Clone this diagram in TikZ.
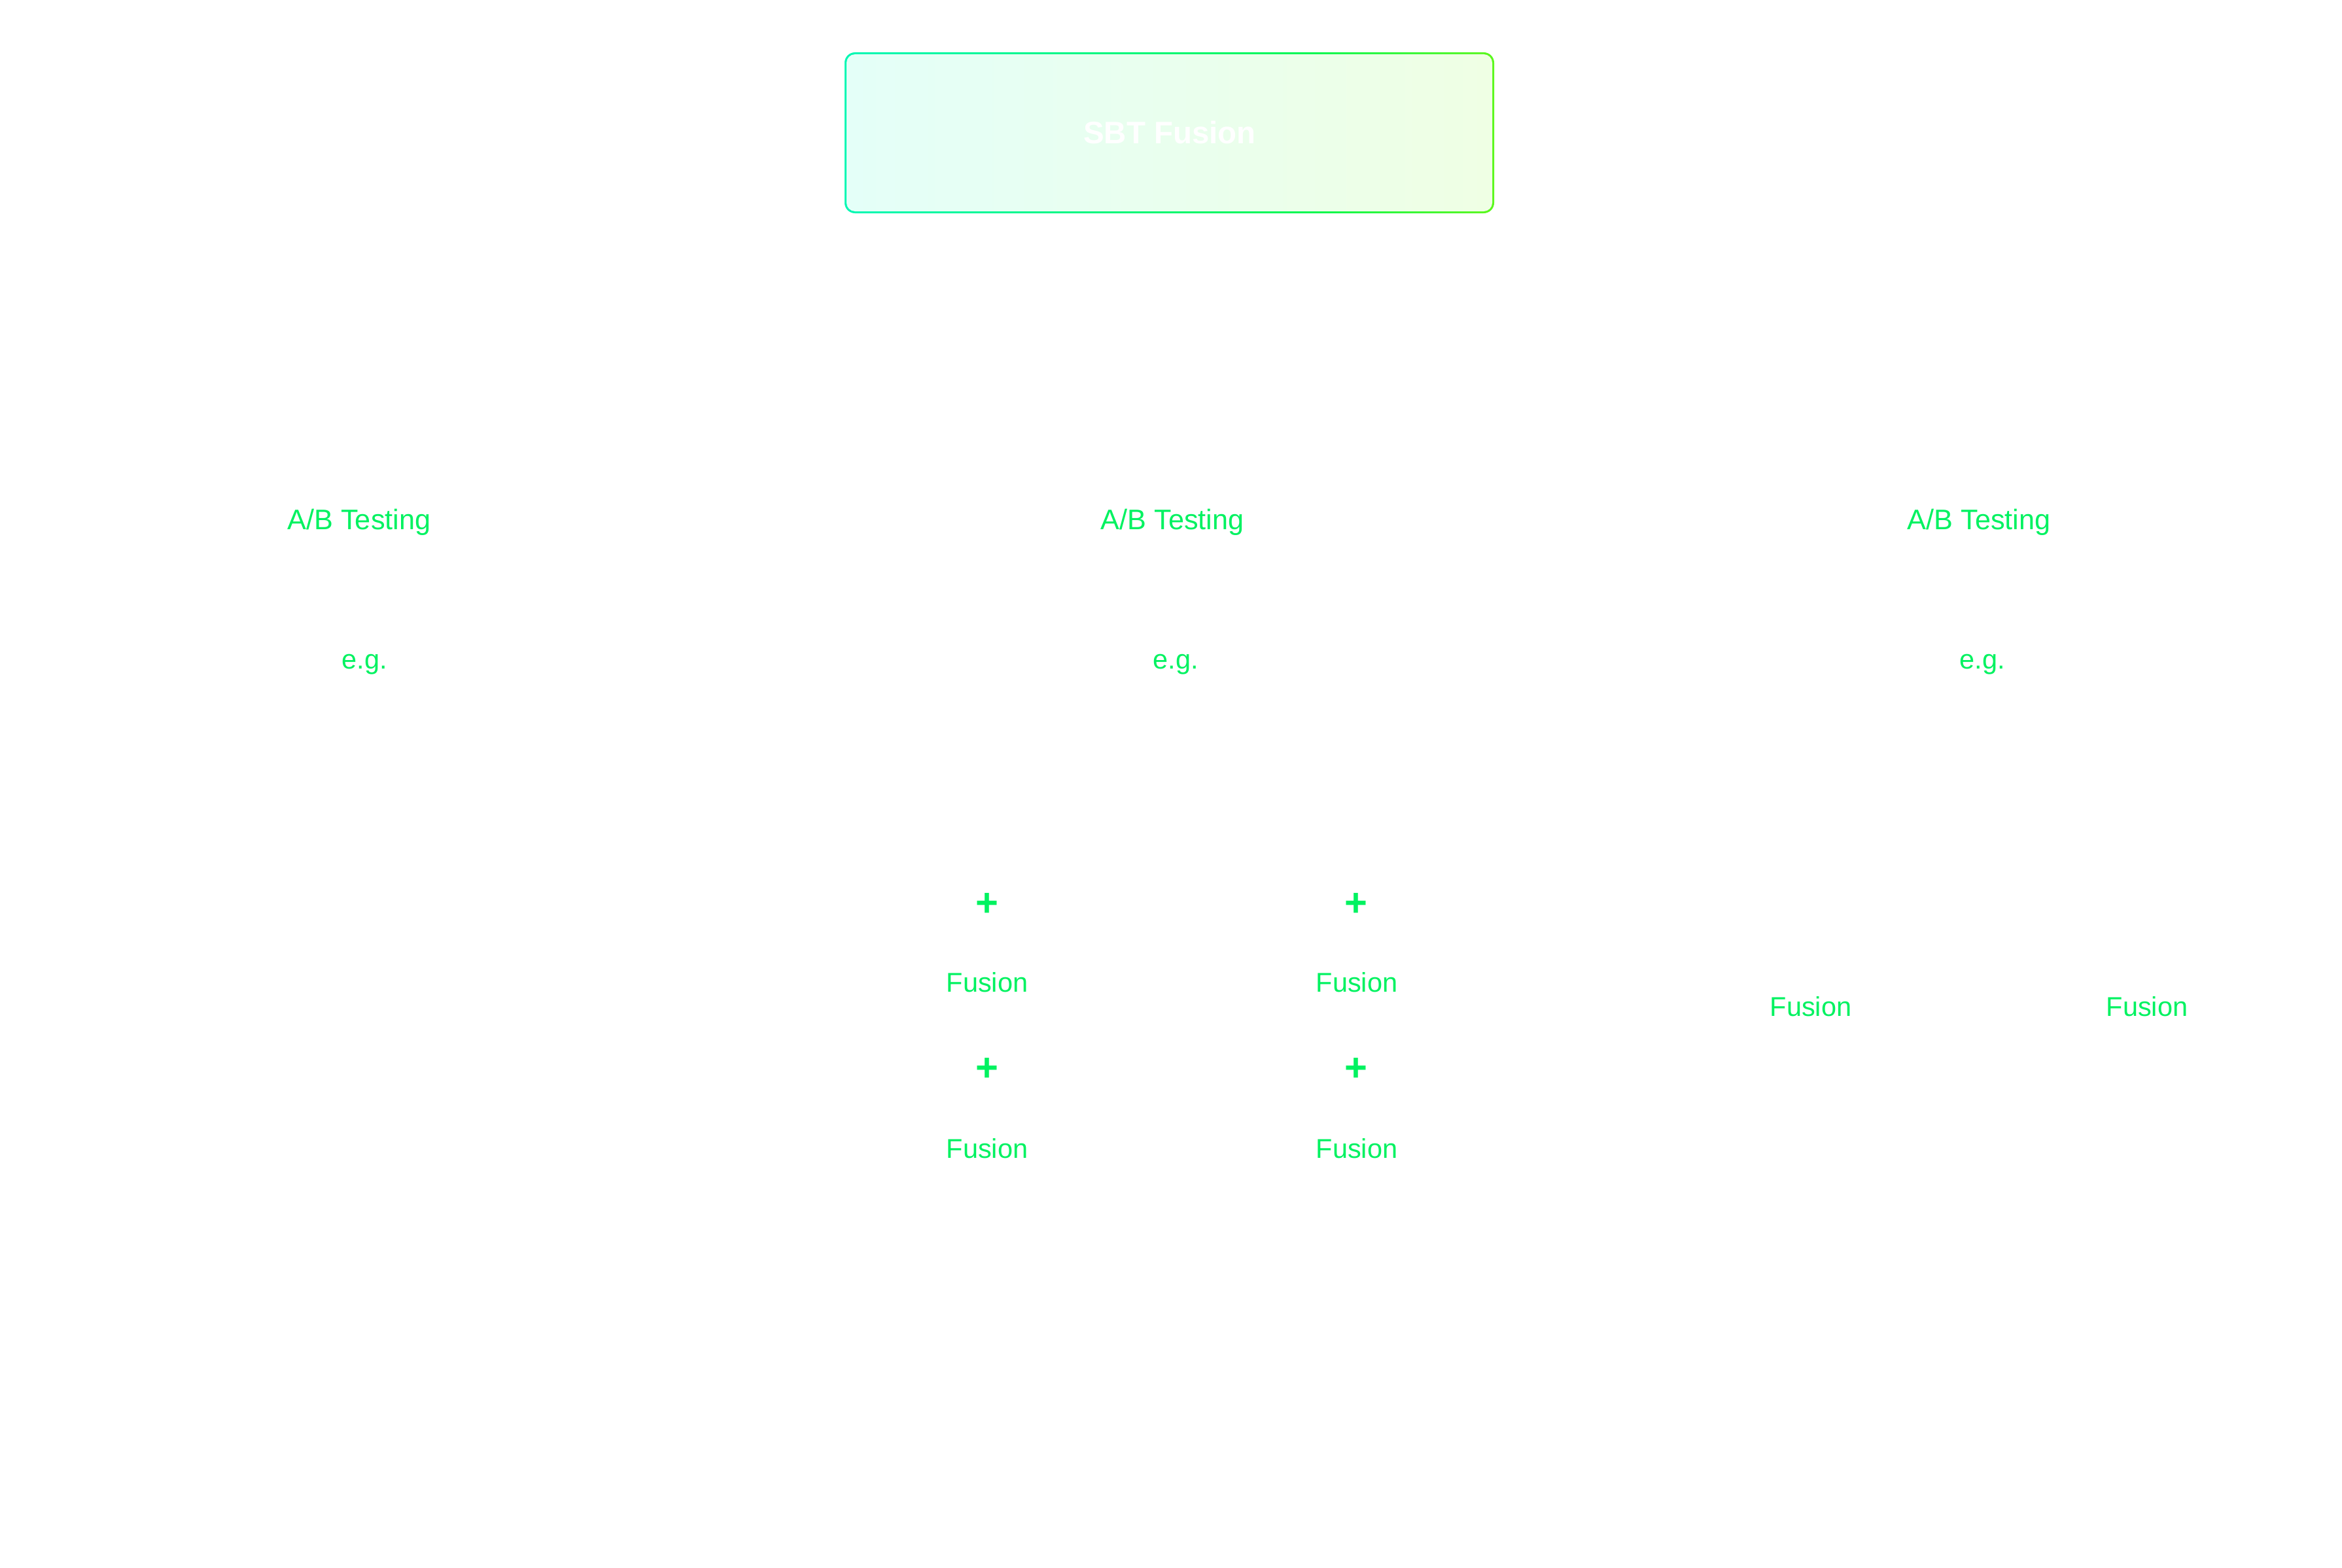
\documentclass[tikz,border=0pt]{standalone}
\usepackage{fontspec}
\setmainfont{Liberation Sans}
\usepackage{tikz}

\definecolor{textgreen}{HTML}{00F260}
\definecolor{bordercyan}{HTML}{00F8B4}
\definecolor{bordergreen}{HTML}{00F850}
\definecolor{borderlime}{HTML}{5CF81C}
\definecolor{fillcyan}{HTML}{E4FFF8}
\definecolor{filllime}{HTML}{EFFFE4}

\pgfdeclarehorizontalshading{titleborder}{100bp}{color(0bp)=(bordercyan); color(25bp)=(bordercyan); color(60bp)=(bordergreen); color(75bp)=(borderlime); color(100bp)=(borderlime)}

\tikzset{
  greentext/.style={text=textgreen, inner sep=0pt, anchor=base, font=\fontsize{11.8}{14}\selectfont},
  widetext/.style={greentext, font=\fontsize{12.3}{14}\selectfont},
  plussign/.style={text=textgreen, inner sep=0pt, font=\fontsize{17}{20}\selectfont\bfseries},
  titletext/.style={text=white, inner sep=0pt, anchor=base, font=\fontsize{13.5}{16}\selectfont\bfseries}
}

\begin{document}
\begin{tikzpicture}
\useasboundingbox (0,0) rectangle (35.8,-23.96);
% title box
\shade[shading=titleborder, rounded corners=0.16cm] (12.91,-0.80) rectangle (22.84,-3.26);
\shade[left color=fillcyan, right color=filllime, rounded corners=0.13cm] (12.94,-0.83) rectangle (22.81,-3.23);
\node[titletext] (sbt) at (17.88,-2.20) {SBT Fusion};
% columns
\node[widetext] (ab1) at (5.49,-8.09) {A/B Testing};
\node[widetext] (ab2) at (17.92,-8.09) {A/B Testing};
\node[widetext] (ab3) at (30.25,-8.09) {A/B Testing};
\node[greentext] (eg1) at (5.57,-10.22) {e.g.};
\node[greentext] (eg2) at (17.97,-10.22) {e.g.};
\node[greentext] (eg3) at (30.30,-10.22) {e.g.};
% middle column
\node[plussign] (plus1) at (15.09,-13.83) {+};
\node[plussign] (plus2) at (20.73,-13.83) {+};
\node[greentext] (fus1) at (15.09,-15.16) {Fusion};
\node[greentext] (fus2) at (20.74,-15.16) {Fusion};
\node[plussign] (plus3) at (15.09,-16.35) {+};
\node[plussign] (plus4) at (20.73,-16.35) {+};
\node[greentext] (fus3) at (15.09,-17.70) {Fusion};
\node[greentext] (fus4) at (20.74,-17.70) {Fusion};
% right column
\node[greentext] (fus5) at (27.68,-15.53) {Fusion};
\node[greentext] (fus6) at (32.82,-15.53) {Fusion};
\end{tikzpicture}
\end{document}
